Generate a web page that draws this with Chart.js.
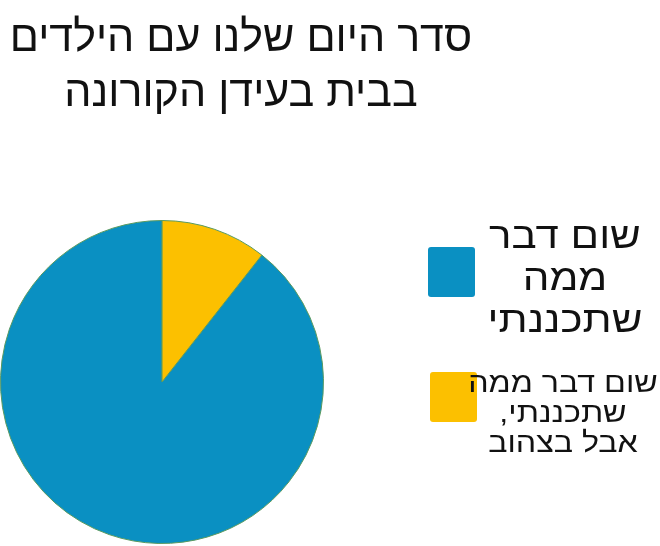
<!DOCTYPE html>
<html lang="he">
<head>
<meta charset="utf-8">
<script src="https://cdn.jsdelivr.net/npm/chart.js@4/dist/chart.umd.min.js"></script>
<style>
	html, body { margin: 0; padding: 0; background: #fff; }
	#wrap { position: relative; width: 660px; height: 546px; overflow: hidden; }
	#canvas { position: absolute; left: 0; top: 0; }
	#title {
		position: absolute; left: 0; top: 9px; width: 482px;
		direction: rtl; text-align: center; white-space: nowrap;
		font-family: "Liberation Sans", Arial, sans-serif; font-size: 43px; line-height: 55px; color: #111;
	}
	.box { position: absolute; width: 47px; height: 50px; border-radius: 3px; }
	.label {
		position: absolute; direction: rtl; text-align: center; white-space: nowrap;
		font-family: "Liberation Sans", Arial, sans-serif; color: #111;
		transform-origin: 50% 0;
	}
</style>
</head>
<body>
<div id="wrap">
	<canvas id="canvas" width="660" height="546"></canvas>
	<div id="title"></div>
	<div id="legend"></div>
</div>
<script>
const titleLines = ["סדר היום שלנו עם הילדים", "בבית בעידן הקורונה"];
const categories = [
	["שום דבר", "ממה", "שתכננתי"],
	["שום דבר ממה", "שתכננתי,", "אבל בצהוב"],
];
const shares = [89.4, 10.6];
const colors = ["#0a90c2", "#fcc000"];

document.getElementById("title").innerHTML = titleLines.join("<br>");

const context = document.getElementById("canvas").getContext("2d");

const chart = new Chart(context, {
	type: "pie",
	data: {
		labels: categories.map((l) => l.join(" ")),
		datasets: [
			{
				data: shares,
				backgroundColor: colors,
				borderColor: "#5a9a60",
				borderWidth: 1,
			},
		],
	},
	options: {
		responsive: false,
		animation: false,
		rotation: 38.2,
		layout: { padding: { top: 218, left: 0, right: 336, bottom: 0 } },
		plugins: {
			legend: { display: false },
			tooltip: { enabled: false },
		},
	},
});

// html legend built from the chart's own labels and colours
const legendSpots = [
	{ boxX: 428, boxY: 247, cx: 565, top: 215, size: 36, lh: 42, sx: 1.17 },
	{ boxX: 430, boxY: 372, cx: 563, top: 368, size: 28, lh: 30, sx: 1.15 },
];
const legend = document.getElementById("legend");
chart.data.labels.forEach((_l, i) => {
	const s = legendSpots[i];
	const box = document.createElement("div");
	box.className = "box";
	box.style.left = s.boxX + "px";
	box.style.top = s.boxY + "px";
	box.style.background = chart.data.datasets[0].backgroundColor[i];
	const label = document.createElement("div");
	label.className = "label";
	label.style.top = s.top + "px";
	label.style.left = s.cx - 150 + "px";
	label.style.width = "300px";
	label.style.fontSize = s.size + "px";
	label.style.lineHeight = s.lh + "px";
	label.style.transform = "scaleX(" + s.sx + ")";
	label.innerHTML = categories[i].join("<br>");
	legend.appendChild(box);
	legend.appendChild(label);
});
</script>
</body>
</html>
